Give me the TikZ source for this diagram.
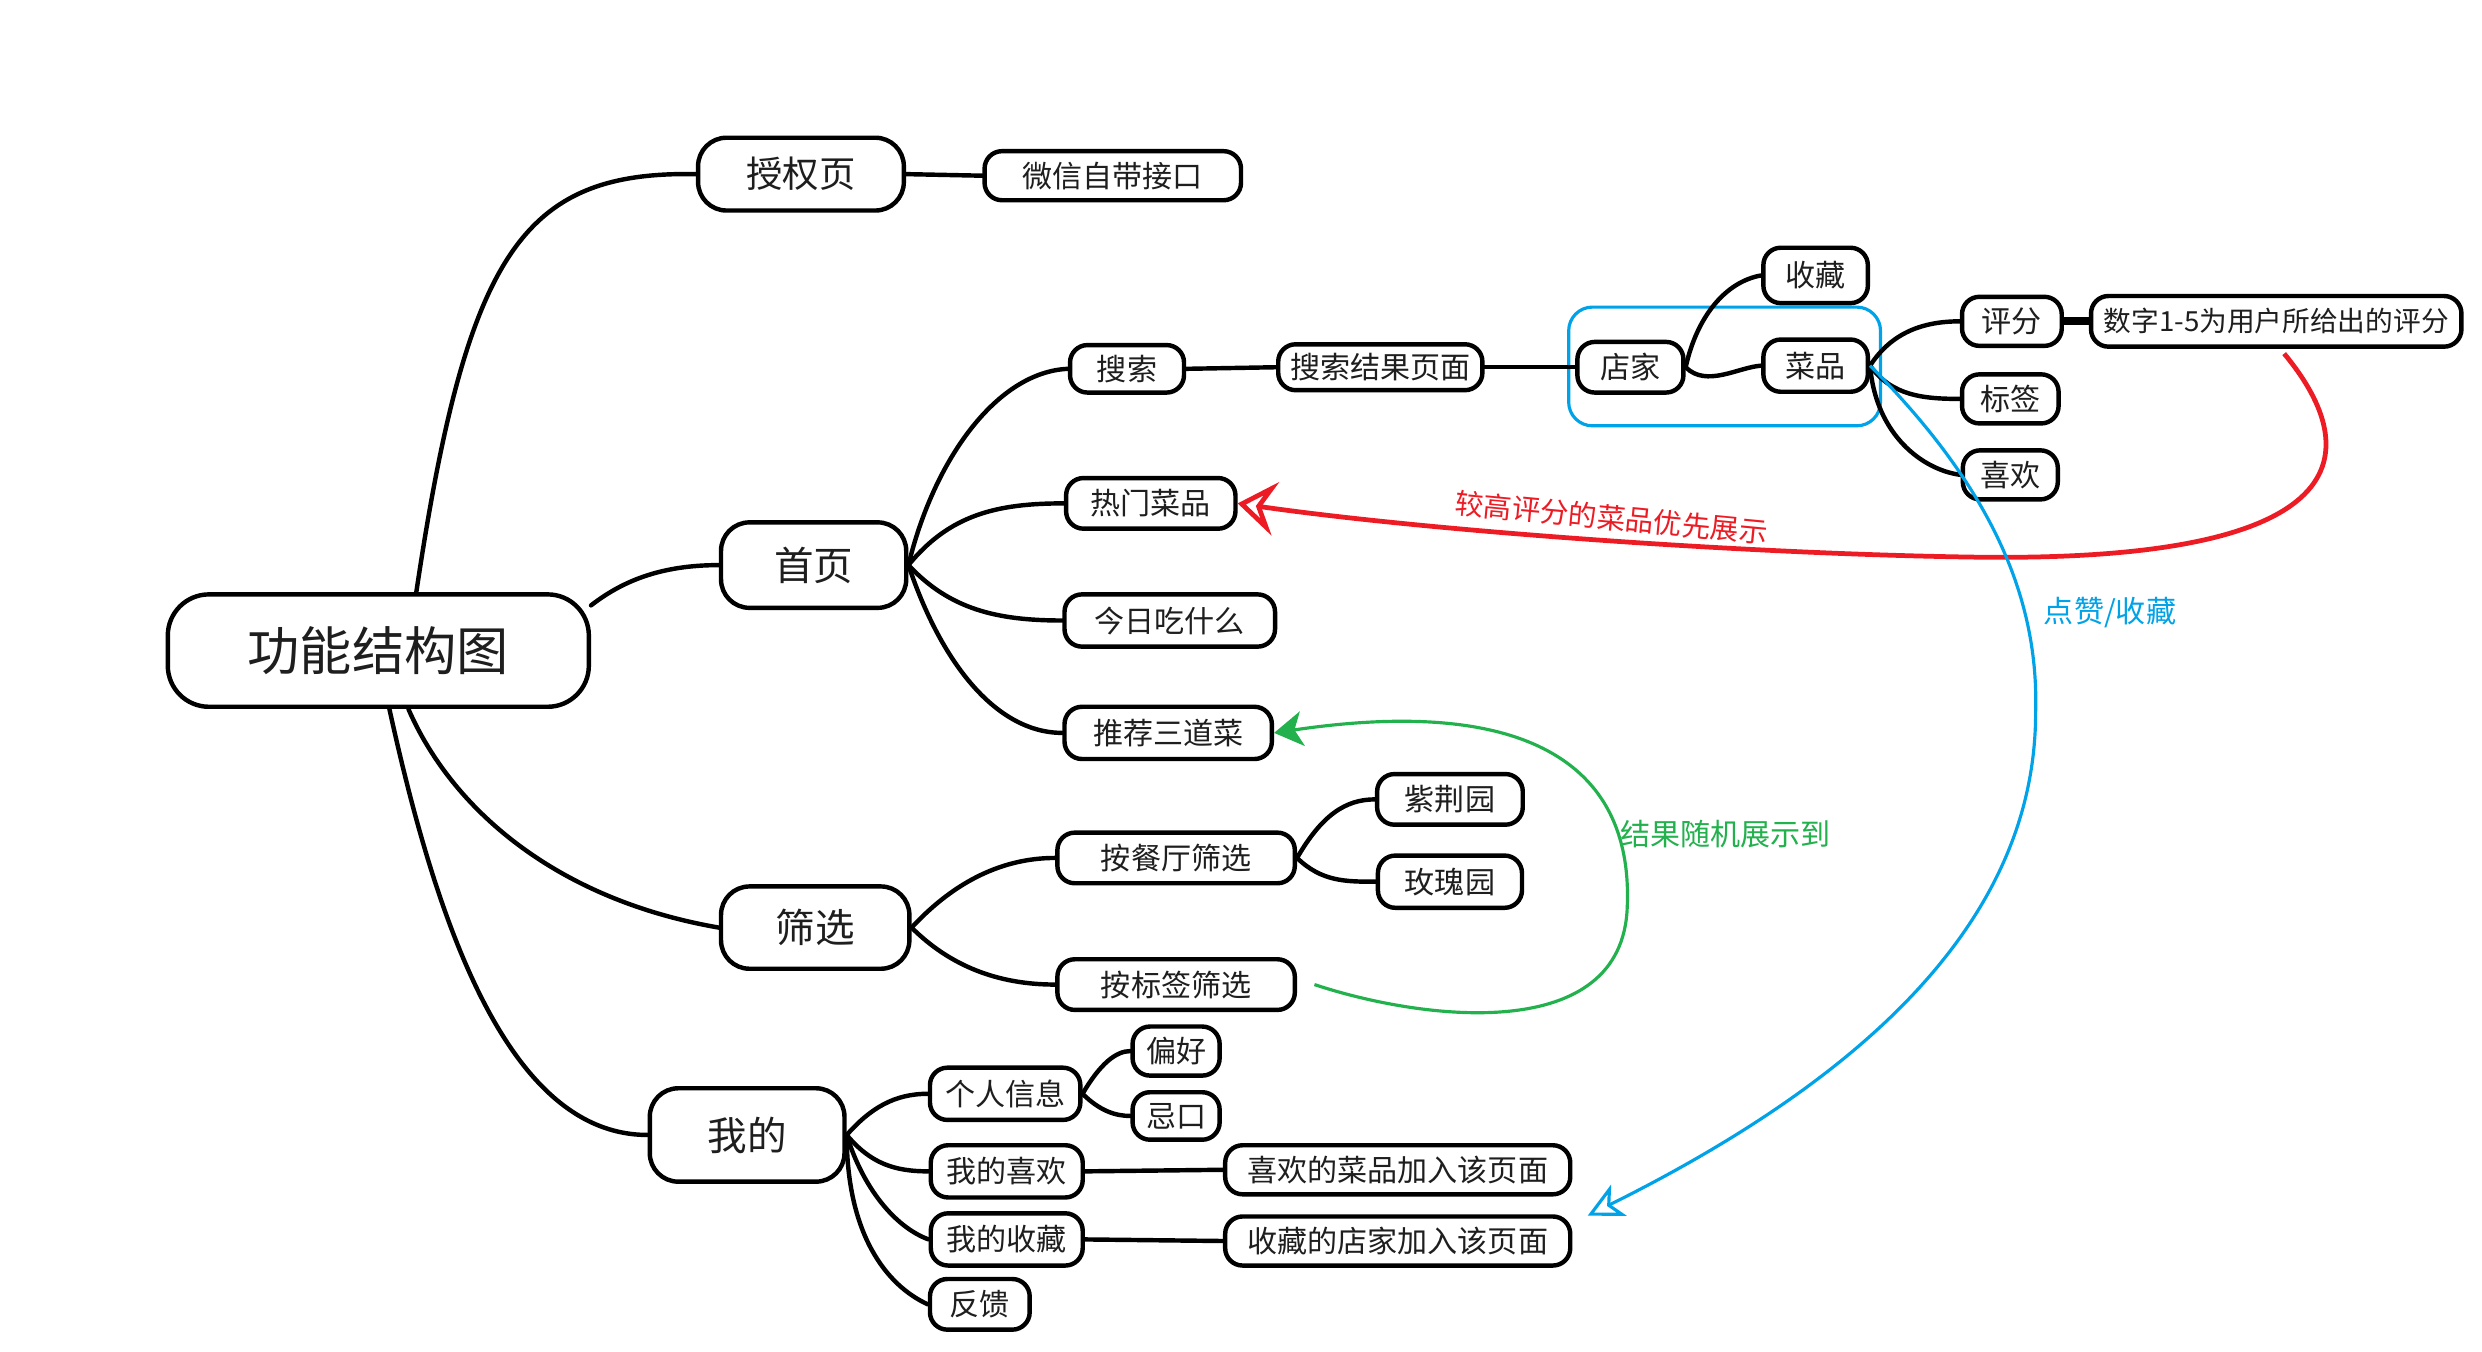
\documentclass[tikz,border=0pt]{standalone}
\usepackage{fontspec}
\setmainfont{Noto Sans CJK SC}
\usetikzlibrary{arrows.meta}
\newcommand\myfs[1]{\fontsize{#1pt}{#1pt}\selectfont}
\definecolor{myred}{RGB}{237,28,36}
\definecolor{myblue}{RGB}{0,162,232}
\definecolor{mygreen}{RGB}{34,177,76}
\definecolor{txt}{RGB}{30,30,30}
\begin{document}
\begin{tikzpicture}[x=1pt,y=-1pt,
 box/.style={draw, line width=2.8pt, fill=white, rounded corners=11pt, inner sep=0pt, text=txt, font=\myfs{19}},
 midbox/.style={box, rounded corners=18pt, font=\myfs{25}},
 rootbox/.style={box, rounded corners=26pt, font=\myfs{33}},
 conn/.style={line width=2.8pt, line cap=round},
 sz/.style 2 args={minimum width=#1pt, minimum height=#2pt},
]
\fill[white] (0,0) rectangle (1568,854);
\useasboundingbox (0,0) rectangle (1568,854);

% blue group frame
\node[draw=myblue, line width=2pt, rounded corners=15pt, sz={197}{75}] (grp) at (1089.5,231.5) {};

% nodes
\node[rootbox, sz={266}{71}] (root) at (239,411) {功能结构图};
\node[midbox, sz={130}{46}, font=\myfs{23}] (auth) at (506,110) {授权页};
\node[box, sz={162}{31}] (wx) at (703,111) {微信自带接口};
\node[midbox, sz={117}{54}] (home) at (514,357) {首页};
\node[box, sz={72}{30}] (search) at (712,233) {搜索};
\node[box, sz={129}{29}] (sres) at (872,232) {搜索结果页面};
\node[box, sz={67}{32}] (dian) at (1030,232) {店家};
\node[box, sz={66}{35}] (shou) at (1147,174) {收藏};
\node[box, sz={66}{33}] (cai) at (1147,231) {菜品};
\node[box, sz={63}{31}] (ping) at (1271,203) {评分};
\node[box, sz={234}{32}, font=\myfs{17.5}] (num) at (1438,203) {数字1-5为用户所给出的评分};
\node[box, sz={61}{31}] (biao) at (1270,252) {标签};
\node[box, sz={60}{31}] (xi) at (1270,300) {喜欢};
\node[box, sz={107}{32}] (hot) at (727,318) {热门菜品};
\node[box, sz={133}{33}] (today) at (739,392) {今日吃什么};
\node[box, sz={131}{33}] (rec) at (738,463) {推荐三道菜};
\node[midbox, sz={119}{52}] (filt) at (515,586) {筛选};
\node[box, sz={150}{32}] (rest) at (743,542) {按餐厅筛选};
\node[box, sz={92}{32}] (zjy) at (916,505) {紫荆园};
\node[box, sz={91}{33}] (mgy) at (916,557) {玫瑰园};
\node[box, sz={150}{32}] (tagsel) at (743,622) {按标签筛选};
\node[midbox, sz={123}{59}] (mine) at (472,717) {我的};
\node[box, sz={95}{33}] (info) at (635,691) {个人信息};
\node[box, sz={55}{31}] (pref) at (743,664) {偏好};
\node[box, sz={55}{30}] (avoid) at (743,705) {忌口};
\node[box, sz={96}{33}] (mylike) at (636,740) {我的喜欢};
\node[box, sz={218}{31}] (likepg) at (883,739) {喜欢的菜品加入该页面};
\node[box, sz={96}{33}] (mycol) at (636,783) {我的收藏};
\node[box, sz={218}{31}] (colpg) at (883,784) {收藏的店家加入该页面};
\node[box, sz={63}{32}] (fb) at (619,824) {反馈};

% connectors
\draw[conn] ([xshift=24pt]root.north) .. controls (295,160) and (330,108) .. (auth.west);
\draw[conn] (root.12) .. controls (392,368) and (416,357) .. (home.west);
\draw[conn] ([xshift=19pt]root.south) .. controls (285,510) and (350,568) .. (filt.west);
\draw[conn] ([xshift=7pt]root.south) .. controls (275,580) and (320,717) .. (mine.west);
\draw[conn] (auth.east) -- (wx.west);

\draw[conn] (home.east) .. controls (590,290) and (630,235) .. (search.west);
\draw[conn] (home.east) .. controls (600,325) and (630,318) .. (hot.west);
\draw[conn] (home.east) .. controls (600,385) and (630,392) .. (today.west);
\draw[conn] (home.east) .. controls (595,420) and (630,463) .. (rec.west);
\draw[conn] (search.east) -- (sres.west);
\draw[conn] (sres.east) -- (dian.west);
\draw[conn] (dian.east) .. controls (1072,200) and (1090,178) .. (shou.west);
\draw[conn] (dian.east) .. controls (1078,245) and (1098,232) .. (cai.west);
\draw[conn] (cai.east) .. controls (1195,210) and (1215,203) .. (ping.west);
\draw[conn] (cai.east) .. controls (1195,250) and (1215,252) .. (biao.west);
\draw[conn] (cai.east) .. controls (1185,275) and (1215,297) .. (xi.west);
\draw[line width=5pt] (ping.east) -- (num.west);

\draw[conn] (filt.east) .. controls (600,560) and (630,542) .. (rest.west);
\draw[conn] (filt.east) .. controls (600,610) and (630,622) .. (tagsel.west);
\draw[conn] (rest.east) .. controls (835,515) and (850,505) .. (zjy.west);
\draw[conn] (rest.east) .. controls (835,557) and (850,557) .. (mgy.west);

\draw[conn] (mine.east) .. controls (550,700) and (565,691) .. (info.west);
\draw[conn] (mine.east) .. controls (550,735) and (565,740) .. (mylike.west);
\draw[conn] (mine.east) .. controls (545,750) and (565,775) .. (mycol.west);
\draw[conn] (mine.east) .. controls (535,780) and (560,812) .. (fb.west);
\draw[conn] (info.east) .. controls (695,672) and (705,664) .. (pref.west);
\draw[conn] (info.east) .. controls (695,702) and (705,705) .. (avoid.west);
\draw[conn] (mylike.east) -- (likepg.west);
\draw[conn] (mycol.east) -- (colpg.west);

% red annotation arrow
\draw[myred, line width=3pt, -{Stealth[open, length=24pt, width=34pt, inset=9pt]}]
  ([xshift=5pt,yshift=-3pt]num.south) .. controls (1490,280) and (1500,355) .. (1250,352)
  .. controls (1100,350) and (900,335) .. (hot.east);
\node[text=myred, font=\myfs{18}, rotate=-5.5] (lred) at (1018,327) {较高评分的菜品优先展示};

% blue annotation arrow
\coordinate (blueend) at (1003,768);
\draw[myblue, line width=2pt, -{Stealth[open, length=22pt, width=22pt, inset=6pt]}]
  (cai.east) .. controls (1260,310) and (1288,380) .. (1286,450)
  .. controls (1286,580) and (1180,680) .. (blueend);
\node[text=myblue, font=\myfs{19}] (lblue) at (1333,387) {点赞/收藏};

% green annotation arrow
\draw[mygreen, line width=2pt, -{Stealth[length=18pt, width=22pt, inset=5pt]}]
  ([xshift=11pt]tagsel.east) .. controls (900,645) and (1025,660) .. (1028,573)
  .. controls (1032,480) and (960,440) .. (rec.east);
\node[text=mygreen, font=\myfs{19}] (lgreen) at (1090,527) {结果随机展示到};
\end{tikzpicture}
\end{document}
